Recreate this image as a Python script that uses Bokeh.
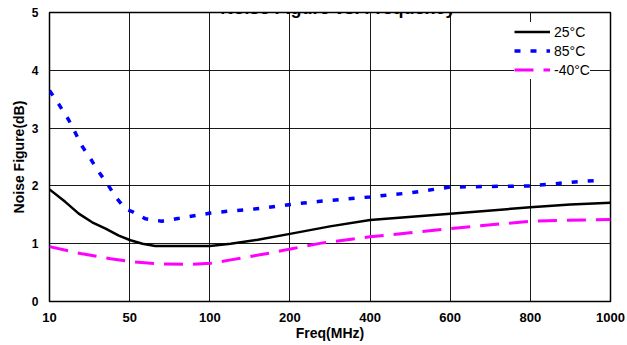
import numpy as np
from bokeh.plotting import figure
from bokeh.models import (Range1d, FixedTicker, Legend, LegendItem, Label)
from bokeh.embed import file_html
from bokeh.resources import INLINE

# ---- data ----
tick_freqs = [10, 50, 100, 200, 400, 600, 800, 1000]
tick_labels = ["10", "50", "100", "200", "400", "600", "800", "1000"]

freq_25 = [10, 18, 24.6, 31.3, 38, 44.6, 50.5, 58, 66, 100, 126, 160, 200, 300, 400, 600, 800, 900, 1000]
nf_25 = [1.94, 1.72, 1.52, 1.37, 1.26, 1.14, 1.06, 1.00, 0.96, 0.96, 1.00, 1.07, 1.17, 1.30, 1.41, 1.52, 1.63, 1.68, 1.71]

freq_85 = [10, 14.7, 19.6, 23, 26.4, 30.5, 34.4, 38.8, 43, 48, 52, 60, 70, 81, 101, 122, 164,
           202, 270, 400, 500, 600, 700, 800, 930, 980]
nf_85 = [3.65, 3.41, 3.14, 2.91, 2.68, 2.47, 2.25, 2.04, 1.81, 1.60, 1.55, 1.43, 1.39, 1.44, 1.53,
         1.56, 1.61, 1.68, 1.73, 1.81, 1.88, 1.98, 1.99, 2.00, 2.08, 2.10]

freq_m40 = [10, 25.5, 40.5, 50.6, 69.4, 88, 101, 126, 176, 202, 278, 400, 600, 800, 1000]
nf_m40 = [0.95, 0.83, 0.74, 0.69, 0.65, 0.64, 0.66, 0.72, 0.84, 0.91, 1.01, 1.12, 1.26, 1.39, 1.42]

series_names = ["25\u00b0C", "85\u00b0C", "-40\u00b0C"]

# piecewise axis: tick labels equally spaced
tick_pos = list(range(len(tick_freqs)))


def pos(freqs):
    return np.interp(freqs, tick_freqs, tick_pos)


FONT = "Liberation Sans"

p = figure(width=627, height=345, output_backend="svg", toolbar_location=None,
           x_range=Range1d(0, 7), y_range=Range1d(0, 5),
           min_border_left=49, min_border_right=17, min_border_top=12, min_border_bottom=44)
p.background_fill_color = "white"
p.border_fill_color = "white"
p.outline_line_color = "black"
p.outline_line_width = 1.5

# axes
p.xaxis.ticker = FixedTicker(ticks=tick_pos)
p.xaxis.major_label_overrides = {i: t for i, t in zip(tick_pos, tick_labels)}
p.yaxis.ticker = FixedTicker(ticks=[0, 1, 2, 3, 4, 5])
for ax in (p.xaxis, p.yaxis):
    ax.axis_line_color = None
    ax.major_tick_line_color = None
    ax.minor_tick_line_color = None
    ax.major_tick_out = 0
    ax.major_tick_in = 0
    ax.minor_tick_out = 0
    ax.minor_tick_in = 0
    ax.major_label_text_font = FONT
    ax.major_label_text_font_style = "bold"
    ax.major_label_text_color = "black"
    ax.axis_label_text_font = FONT
    ax.axis_label_text_font_style = "bold"
    ax.axis_label_text_color = "black"

p.xaxis.axis_label = "Freq(MHz)"
p.xaxis.major_label_text_font_size = "13px"
p.xaxis.axis_label_text_font_size = "14px"
p.xaxis.major_label_standoff = 11
p.xaxis.axis_label_standoff = 0

p.yaxis.axis_label = "Noise Figure(dB)"
p.yaxis.major_label_text_font_size = "12px"
p.yaxis.axis_label_text_font_size = "14px"
p.yaxis.major_label_standoff = 11
p.yaxis.axis_label_standoff = 2

p.xgrid.ticker = FixedTicker(ticks=tick_pos)
p.ygrid.ticker = FixedTicker(ticks=[0, 1, 2, 3, 4, 5])
for g in (p.xgrid, p.ygrid):
    g.grid_line_color = "black"
    g.grid_line_width = 1
    g.grid_line_alpha = 0.9

# series
r25 = p.line(pos(freq_25), nf_25, line_color="black", line_width=2.5, line_join="round")
r85 = p.line(pos(freq_85), nf_85, line_color="#0000FF", line_width=3.5, line_dash="6 10")
rm40 = p.line(pos(freq_m40), nf_m40, line_color="#FF00FF", line_width=3, line_dash="19 10")

legend = Legend(items=[LegendItem(label=series_names[0], renderers=[r25]),
                       LegendItem(label=series_names[1], renderers=[r85]),
                       LegendItem(label=series_names[2], renderers=[rm40])],
                location=(465, 222))
legend.label_text_font = FONT
legend.label_text_font_size = "14px"
legend.label_text_color = "black"
legend.glyph_width = 36
legend.glyph_height = 19
legend.label_height = 19
legend.label_standoff = 4
legend.spacing = 0
legend.padding = 3
legend.margin = 0
legend.border_line_color = None
legend.background_fill_color = "white"
legend.background_fill_alpha = 1
p.add_layout(legend, "center")

# title, partly cut off at the top edge as in the reference
title = Label(x=3.6, y=5.08, text="Noise Figure vs. Frequency", text_align="center",
              text_baseline="alphabetic", text_font=FONT, text_font_style="bold",
              text_font_size="18px", text_color="black")
p.add_layout(title)

open("out.html", "w").write(file_html(p, INLINE))
